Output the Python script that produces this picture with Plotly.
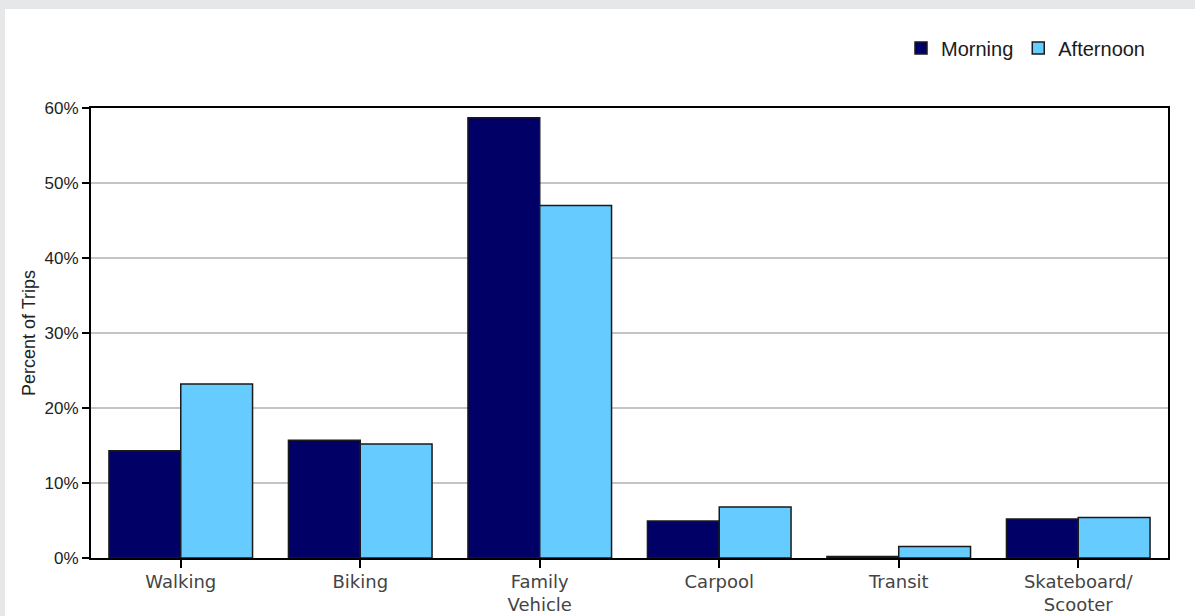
import plotly.graph_objects as go

categories = ["Walking", "Biking", "Family<br>Vehicle", "Carpool", "Transit", "Skateboard/<br>Scooter"]
morning = [14.3, 15.7, 58.7, 4.95, 0.2, 5.2]
afternoon = [23.2, 15.2, 47.0, 6.8, 1.55, 5.4]
y_ticks = [0, 10, 20, 30, 40, 50, 60]
y_tick_labels = ["0%", "10%", "20%", "30%", "40%", "50%", "60%"]

W, H = 1195, 616
L, R, T, B = 91, 27, 108, 58

fig = go.Figure()
fig.add_trace(go.Bar(name="Morning", x=categories, y=morning,
                     marker=dict(color="#000066", line=dict(color="#1a1a1a", width=1.5))))
fig.add_trace(go.Bar(name="Afternoon", x=categories, y=afternoon,
                     marker=dict(color="#66ccff", line=dict(color="#1a1a1a", width=1.5))))

pw = W - L - R
ph = H - T - B
def px_x(p):
    return (p - L) / pw
def px_y(p):
    return (H - B - p) / ph

fig.add_shape(type="rect", xref="paper", yref="paper", layer="below",
              x0=px_x(5), x1=px_x(W + 10), y0=px_y(H + 40), y1=px_y(9),
              fillcolor="white", line=dict(width=0))

fig.update_layout(
    width=W, height=H, autosize=False,
    margin=dict(l=L, r=R, t=T, b=B, pad=0, autoexpand=False),
    paper_bgcolor="#e6e7e9",
    plot_bgcolor="white",
    barmode="group",
    bargap=0.2,
    bargroupgap=0,
    showlegend=True,
    legend=dict(orientation="h", xanchor="right", x=px_x(1150), yanchor="middle", y=px_y(48),
                font=dict(family="Liberation Sans", size=20, color="#1a1a1a"),
                bgcolor="rgba(0,0,0,0)", itemwidth=30, tracegroupgap=0),
    xaxis=dict(showline=True, linecolor="black", linewidth=2, mirror=True,
               ticks="outside", ticklen=8, tickwidth=2, tickcolor="black",
               tickfont=dict(family="DejaVu Sans", size=18, color="#444444"),
               ticklabelstandoff=-2,
               showgrid=False, automargin=False),
    yaxis=dict(range=[0, 60], tickvals=y_ticks, ticktext=y_tick_labels,
               showline=True, linecolor="black", linewidth=2, mirror=True,
               ticks="outside", ticklen=7, tickwidth=2, tickcolor="black",
               tickfont=dict(family="Liberation Sans", size=17, color="#222222"),
               showgrid=True, gridcolor="#c4c4c4", gridwidth=1.5,
               zeroline=False, automargin=False,
               title=dict(text="Percent of Trips", standoff=4,
                          font=dict(family="Liberation Sans", size=18, color="#222222"))),
)

fig.write_html("out.html",
               config={"displayModeBar": False},
               post_script="document.body.style.margin='0';document.body.style.overflow='hidden';")
